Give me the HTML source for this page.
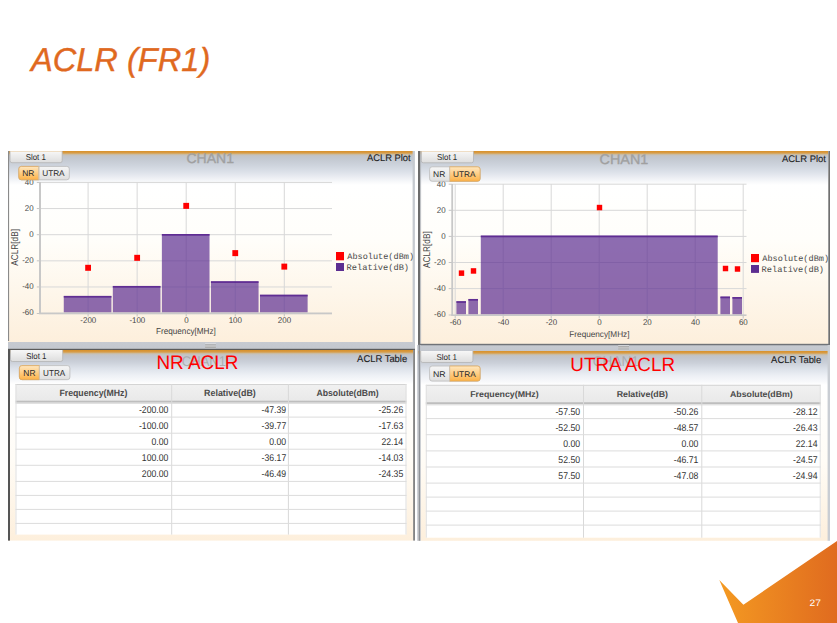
<!DOCTYPE html>
<html><head><meta charset="utf-8"><title>ACLR (FR1)</title>
<style>
html,body{margin:0;padding:0;background:#fff;width:837px;height:623px;overflow:hidden;}
svg{display:block;font-family:"Liberation Sans", sans-serif;text-rendering:geometricPrecision;}
</style></head>
<body>
<svg width="837" height="623" viewBox="0 0 837 623">

<defs>
 <linearGradient id="gPlotL" x1="0" y1="151" x2="0" y2="342" gradientUnits="userSpaceOnUse">
  <stop offset="0.0000" stop-color="#D9922A"/>
  <stop offset="0.0068" stop-color="#D8963A"/>
  <stop offset="0.0131" stop-color="#D4A865"/>
  <stop offset="0.0188" stop-color="#C9BDA8"/>
  <stop offset="0.0251" stop-color="#C3C4C7"/>
  <stop offset="0.0366" stop-color="#C2C7CF"/>
  <stop offset="0.0733" stop-color="#CDD3DC"/>
  <stop offset="0.1099" stop-color="#DCE1E9"/>
  <stop offset="0.1414" stop-color="#EDEFF4"/>
  <stop offset="0.1623" stop-color="#F8F9FB"/>
  <stop offset="0.1780" stop-color="#FFFFFF"/>
  <stop offset="0.4660" stop-color="#FFFEFA"/>
  <stop offset="1.0000" stop-color="#FDEFDC"/>
 </linearGradient>
 <linearGradient id="gPlotR" x1="0" y1="151" x2="0" y2="344" gradientUnits="userSpaceOnUse">
  <stop offset="0.0000" stop-color="#D9922A"/>
  <stop offset="0.0067" stop-color="#D8963A"/>
  <stop offset="0.0130" stop-color="#D4A865"/>
  <stop offset="0.0187" stop-color="#C9BDA8"/>
  <stop offset="0.0249" stop-color="#C3C4C7"/>
  <stop offset="0.0363" stop-color="#C2C7CF"/>
  <stop offset="0.0725" stop-color="#CDD3DC"/>
  <stop offset="0.1088" stop-color="#DCE1E9"/>
  <stop offset="0.1399" stop-color="#EDEFF4"/>
  <stop offset="0.1606" stop-color="#F8F9FB"/>
  <stop offset="0.1762" stop-color="#FFFFFF"/>
  <stop offset="0.4611" stop-color="#FFFEFA"/>
  <stop offset="1.0000" stop-color="#FDEFDC"/>
 </linearGradient>
 <linearGradient id="gTbl" x1="0" y1="0" x2="0" y2="1">
  <stop offset="0.0000" stop-color="#D9922A"/>
  <stop offset="0.0068" stop-color="#D8963A"/>
  <stop offset="0.0132" stop-color="#D4A865"/>
  <stop offset="0.0189" stop-color="#C9BDA8"/>
  <stop offset="0.0253" stop-color="#C3C4C7"/>
  <stop offset="0.0368" stop-color="#C2C6CE"/>
  <stop offset="0.0632" stop-color="#CBD0D9"/>
  <stop offset="0.0947" stop-color="#DCE1E9"/>
  <stop offset="0.1316" stop-color="#EDF0F5"/>
  <stop offset="0.1632" stop-color="#F8F9FB"/>
  <stop offset="0.1789" stop-color="#FFFFFF"/>
  <stop offset="0.5789" stop-color="#FFFCF6"/>
  <stop offset="1.0000" stop-color="#FDEFDC"/>
 </linearGradient>
 <linearGradient id="gTab" x1="0" y1="0" x2="0" y2="1">
  <stop offset="0" stop-color="#F7F7F7"/>
  <stop offset="1" stop-color="#DDDDDD"/>
 </linearGradient>
 <linearGradient id="gOn" x1="0" y1="0" x2="0" y2="1">
  <stop offset="0" stop-color="#FFE7BF"/>
  <stop offset="1" stop-color="#FDB247"/>
 </linearGradient>
 <linearGradient id="gOff" x1="0" y1="0" x2="0" y2="1">
  <stop offset="0" stop-color="#F6F6F6"/>
  <stop offset="1" stop-color="#DFDFDF"/>
 </linearGradient>
 <linearGradient id="gHdr" x1="0" y1="0" x2="0" y2="1">
  <stop offset="0" stop-color="#F1F1F1"/>
  <stop offset="1" stop-color="#E9E9E9"/>
 </linearGradient>
 <linearGradient id="gCorner" x1="719" y1="0" x2="837" y2="0" gradientUnits="userSpaceOnUse">
  <stop offset="0" stop-color="#F49A22"/>
  <stop offset="1" stop-color="#E06B1F"/>
 </linearGradient>
 <linearGradient id="gSplit" x1="0" y1="0" x2="0" y2="1">
  <stop offset="0" stop-color="#C6CAD1"/>
  <stop offset="1" stop-color="#C3C7CE"/>
 </linearGradient>
</defs>

<text transform="translate(30.93 70.90) scale(0.987 1)" font-size="33.04" fill="#E0691F" font-style="italic" stroke="#E0691F" stroke-width="0.4">ACLR (FR1)</text>
<rect x="8" y="151" width="405" height="191" fill="url(#gPlotL)"/>
<rect x="8" y="151" width="1.1" height="190" fill="#8A8A8A"/>
<rect x="412.6" y="151" width="2.3" height="198" fill="#C6CAD0"/>
<text transform="translate(186.50 162.60) scale(1.018 1)" font-size="13.77" fill="#A0A0A0" stroke="#A0A0A0" stroke-width="0.35">CHAN1</text>
<text transform="translate(367.00 160.90) scale(0.978 1)" font-size="9.57" fill="#222" stroke="#222" stroke-width="0.12">ACLR Plot</text>
<line x1="40" y1="182.44" x2="332" y2="182.44" stroke="#D8D8D8" stroke-width="1"/>
<line x1="36.8" y1="182.44" x2="40" y2="182.44" stroke="#C4C4C4" stroke-width="1"/>
<line x1="40" y1="208.57" x2="332" y2="208.57" stroke="#D8D8D8" stroke-width="1"/>
<line x1="36.8" y1="208.57" x2="40" y2="208.57" stroke="#C4C4C4" stroke-width="1"/>
<line x1="40" y1="234.7" x2="332" y2="234.7" stroke="#D8D8D8" stroke-width="1"/>
<line x1="36.8" y1="234.7" x2="40" y2="234.7" stroke="#C4C4C4" stroke-width="1"/>
<line x1="40" y1="260.83" x2="332" y2="260.83" stroke="#D8D8D8" stroke-width="1"/>
<line x1="36.8" y1="260.83" x2="40" y2="260.83" stroke="#C4C4C4" stroke-width="1"/>
<line x1="40" y1="286.96" x2="332" y2="286.96" stroke="#D8D8D8" stroke-width="1"/>
<line x1="36.8" y1="286.96" x2="40" y2="286.96" stroke="#C4C4C4" stroke-width="1"/>
<line x1="88.1" y1="182" x2="88.1" y2="313" stroke="#D8D8D8" stroke-width="1"/>
<line x1="88.1" y1="313" x2="88.1" y2="316.5" stroke="#C4C4C4" stroke-width="1"/>
<line x1="137.15" y1="182" x2="137.15" y2="313" stroke="#D8D8D8" stroke-width="1"/>
<line x1="137.15" y1="313" x2="137.15" y2="316.5" stroke="#C4C4C4" stroke-width="1"/>
<line x1="186.2" y1="182" x2="186.2" y2="313" stroke="#D8D8D8" stroke-width="1"/>
<line x1="186.2" y1="313" x2="186.2" y2="316.5" stroke="#C4C4C4" stroke-width="1"/>
<line x1="235.25" y1="182" x2="235.25" y2="313" stroke="#D8D8D8" stroke-width="1"/>
<line x1="235.25" y1="313" x2="235.25" y2="316.5" stroke="#C4C4C4" stroke-width="1"/>
<line x1="284.3" y1="182" x2="284.3" y2="313" stroke="#D8D8D8" stroke-width="1"/>
<line x1="284.3" y1="313" x2="284.3" y2="316.5" stroke="#C4C4C4" stroke-width="1"/>
<line x1="36.8" y1="313.5" x2="40" y2="313.5" stroke="#C4C4C4" stroke-width="1"/>
<rect x="63.77" y="295.92" width="47.65" height="16.58" fill="#5C2D91" fill-opacity="0.7"/>
<rect x="63.77" y="295.92" width="47.65" height="1.7" fill="#5A2590" fill-opacity="0.88"/>
<rect x="112.82" y="285.96" width="47.65" height="26.54" fill="#5C2D91" fill-opacity="0.7"/>
<rect x="112.82" y="285.96" width="47.65" height="1.7" fill="#5A2590" fill-opacity="0.88"/>
<rect x="161.87" y="234.00" width="47.65" height="78.50" fill="#5C2D91" fill-opacity="0.7"/>
<rect x="161.87" y="234.00" width="47.65" height="1.7" fill="#5A2590" fill-opacity="0.88"/>
<rect x="210.92" y="281.26" width="47.65" height="31.24" fill="#5C2D91" fill-opacity="0.7"/>
<rect x="210.92" y="281.26" width="47.65" height="1.7" fill="#5A2590" fill-opacity="0.88"/>
<rect x="259.97" y="294.74" width="47.65" height="17.76" fill="#5C2D91" fill-opacity="0.7"/>
<rect x="259.97" y="294.74" width="47.65" height="1.7" fill="#5A2590" fill-opacity="0.88"/>
<rect x="85.20" y="264.80" width="5.8" height="6" fill="#FF0000"/>
<rect x="134.25" y="254.83" width="5.8" height="6" fill="#FF0000"/>
<rect x="183.30" y="202.87" width="5.8" height="6" fill="#FF0000"/>
<rect x="232.35" y="250.13" width="5.8" height="6" fill="#FF0000"/>
<rect x="281.40" y="263.61" width="5.8" height="6" fill="#FF0000"/>
<rect x="39" y="182" width="2" height="132" fill="#C8C8C8"/>
<rect x="39" y="312.5" width="293" height="1.8" fill="#C8C8C8"/>
<text transform="translate(24.87 184.84) scale(0.950 1)" font-size="8.35" fill="#444">40</text>
<text transform="translate(24.87 210.97) scale(0.950 1)" font-size="8.35" fill="#444">20</text>
<text transform="translate(29.28 237.10) scale(0.950 1)" font-size="8.35" fill="#444">0</text>
<text transform="translate(22.22 263.23) scale(0.950 1)" font-size="8.35" fill="#444">-20</text>
<text transform="translate(22.22 289.36) scale(0.950 1)" font-size="8.35" fill="#444">-40</text>
<text transform="translate(22.22 315.49) scale(0.950 1)" font-size="8.35" fill="#444">-60</text>
<text transform="translate(80.33 322.80) scale(0.950 1)" font-size="8.35" fill="#444">-200</text>
<text transform="translate(129.38 322.80) scale(0.950 1)" font-size="8.35" fill="#444">-100</text>
<text transform="translate(184.18 322.80) scale(0.950 1)" font-size="8.35" fill="#444">0</text>
<text transform="translate(228.69 322.80) scale(0.950 1)" font-size="8.35" fill="#444">100</text>
<text transform="translate(277.84 322.80) scale(0.950 1)" font-size="8.35" fill="#444">200</text>
<text transform="translate(156.05 334.30) scale(0.938 1)" font-size="8.70" fill="#444">Frequency[MHz]</text>
<g transform="translate(18.2 265.8) rotate(-90)"><text transform="translate(0.00 0.00) scale(0.840 1)" font-size="9.86" fill="#444">ACLR[dB]</text></g>
<rect x="336" y="252" width="8" height="8.3" fill="#FF0000"/>
<rect x="336" y="263" width="8" height="8" fill="#5C2D91"/>
<text transform="translate(347.30 258.70) scale(1.010 1)" font-size="8.48" fill="#4A4A4A" font-family='"Liberation Mono", monospace'>Absolute(dBm)</text>
<text transform="translate(346.61 269.70) scale(1.024 1)" font-size="8.48" fill="#4A4A4A" font-family='"Liberation Mono", monospace'>Relative(dB)</text>
<path d="M10 151.2 v9.5 a2 2 0 0 0 2 2 h48.2 a2 2 0 0 0 2 -2 v-9.5" fill="url(#gTab)" stroke="#B4B4B4" stroke-width="0.8"/>
<text transform="translate(25.64 159.70) scale(0.925 1)" font-size="8.55" fill="#2A2A2A">Slot 1</text>
<rect x="18.8" y="166.4" width="50.5" height="13.4" rx="2.5" fill="url(#gOff)" stroke="#BABABA" stroke-width="0.8"/>
<path d="M21.3 166.4 h17.5 v13.4 h-17.5 a2.5 2.5 0 0 1 -2.5 -2.5 v-8.4 a2.5 2.5 0 0 1 2.5 -2.5 z" fill="url(#gOn)" stroke="#DDA75C" stroke-width="0.8"/>
<line x1="38.8" y1="166.4" x2="38.8" y2="179.8" stroke="#C8C8C8" stroke-width="0.8"/>
<text transform="translate(22.22 175.90) scale(1.022 1)" font-size="8.26" fill="#2A2A2A">NR</text>
<text transform="translate(42.18 175.90) scale(0.998 1)" font-size="8.26" fill="#2A2A2A">UTRA</text>
<rect x="8" y="342" width="407" height="7" fill="url(#gSplit)"/>
<rect x="205.1" y="343.2" width="10.8" height="0.8" fill="#DADCE0"/><rect x="205.1" y="344.3" width="10.8" height="0.9" fill="#ABABAB"/><rect x="205.1" y="345.2" width="10.8" height="1.7" fill="#C2C2C2"/><rect x="205.1" y="346.9" width="10.8" height="1" fill="#A6A6A6"/><rect x="205.1" y="347.9" width="10.8" height="0.6" fill="#D2D4D8"/>
<rect x="8" y="348.8" width="407" height="1.2" fill="#5A5A5A"/>
<rect x="8" y="350" width="405" height="190.6" fill="url(#gTbl)"/>
<rect x="8" y="349" width="2" height="191.6" fill="#555"/>
<rect x="413.3" y="349" width="1.5" height="191.6" fill="#666"/>
<text transform="translate(181.85 366.00) scale(0.928 1)" font-size="14.06" fill="#A6A6A6" fill-opacity="0.85">CHAN1</text>
<text transform="translate(156.39 368.80) scale(0.960 1)" font-size="19.71" fill="#FF0000">NR ACLR</text>
<text transform="translate(357.10 361.60) scale(0.957 1)" font-size="9.86" fill="#222" stroke="#222" stroke-width="0.12">ACLR Table</text>
<path d="M10.5 350.0 v9.5 a2 2 0 0 0 2 2 h48.2 a2 2 0 0 0 2 -2 v-9.5" fill="url(#gTab)" stroke="#B4B4B4" stroke-width="0.8"/>
<text transform="translate(26.24 359.30) scale(0.925 1)" font-size="8.55" fill="#2A2A2A">Slot 1</text>
<rect x="19.4" y="365.6" width="50.5" height="14.05" rx="2.5" fill="url(#gOff)" stroke="#BABABA" stroke-width="0.8"/>
<path d="M21.9 365.6 h17.5 v14.05 h-17.5 a2.5 2.5 0 0 1 -2.5 -2.5 v-9.05 a2.5 2.5 0 0 1 2.5 -2.5 z" fill="url(#gOn)" stroke="#DDA75C" stroke-width="0.8"/>
<line x1="39.4" y1="365.6" x2="39.4" y2="379.65000000000003" stroke="#C8C8C8" stroke-width="0.8"/>
<text transform="translate(23.32 375.60) scale(0.971 1)" font-size="8.70" fill="#2A2A2A">NR</text>
<text transform="translate(43.09 375.60) scale(0.935 1)" font-size="8.70" fill="#2A2A2A">UTRA</text>
<rect x="15.5" y="384" width="391.0" height="150.60000000000002" fill="#FFFFFF"/>
<rect x="15.5" y="384" width="391.0" height="17" fill="url(#gHdr)"/>
<rect x="15.5" y="384" width="391.0" height="1" fill="#D4D4D4"/>
<rect x="15.5" y="400.7" width="391.0" height="2" fill="#BEBEBE"/>
<rect x="15.5" y="402.7" width="391.0" height="1.2" fill="#DEDEDE"/>
<rect x="171.2" y="384" width="1" height="150.60000000000002" fill="#D9D9D9"/>
<rect x="287.9" y="384" width="1" height="150.60000000000002" fill="#D9D9D9"/>
<rect x="15.5" y="384" width="1" height="150.60000000000002" fill="#E0E0E0"/>
<rect x="405.5" y="384" width="1" height="150.60000000000002" fill="#E0E0E0"/>
<text transform="translate(59.43 395.90) scale(0.942 1)" font-size="9.28" fill="#4A4A4A" font-weight="bold">Frequency(MHz)</text>
<text transform="translate(204.12 395.80) scale(0.956 1)" font-size="9.28" fill="#4A4A4A" font-weight="bold">Relative(dB)</text>
<text transform="translate(316.48 395.70) scale(0.951 1)" font-size="9.13" fill="#4A4A4A" font-weight="bold">Absolute(dBm)</text>
<text transform="translate(138.94 412.98) scale(0.887 1)" font-size="9.80" fill="#333">-200.00</text>
<text transform="translate(261.55 412.98) scale(0.887 1)" font-size="9.80" fill="#333">-47.39</text>
<text transform="translate(378.60 412.98) scale(0.887 1)" font-size="9.80" fill="#333">-25.26</text>
<text transform="translate(138.94 429.06) scale(0.887 1)" font-size="9.80" fill="#333">-100.00</text>
<text transform="translate(261.59 429.06) scale(0.887 1)" font-size="9.80" fill="#333">-39.77</text>
<text transform="translate(378.60 429.06) scale(0.887 1)" font-size="9.80" fill="#333">-17.63</text>
<text transform="translate(151.50 445.14) scale(0.887 1)" font-size="9.80" fill="#333">0.00</text>
<text transform="translate(269.20 445.14) scale(0.887 1)" font-size="9.80" fill="#333">0.00</text>
<text transform="translate(381.43 445.14) scale(0.887 1)" font-size="9.80" fill="#333">22.14</text>
<text transform="translate(141.80 461.22) scale(0.887 1)" font-size="9.80" fill="#333">100.00</text>
<text transform="translate(261.59 461.22) scale(0.887 1)" font-size="9.80" fill="#333">-36.17</text>
<text transform="translate(378.60 461.22) scale(0.887 1)" font-size="9.80" fill="#333">-14.03</text>
<text transform="translate(141.80 477.30) scale(0.887 1)" font-size="9.80" fill="#333">200.00</text>
<text transform="translate(261.55 477.30) scale(0.887 1)" font-size="9.80" fill="#333">-46.49</text>
<text transform="translate(378.60 477.30) scale(0.887 1)" font-size="9.80" fill="#333">-24.35</text>
<rect x="15.5" y="416.6" width="391.0" height="1" fill="#DCDCDC"/>
<rect x="15.5" y="432.7" width="391.0" height="1" fill="#DCDCDC"/>
<rect x="15.5" y="448.7" width="391.0" height="1" fill="#DCDCDC"/>
<rect x="15.5" y="464.8" width="391.0" height="1" fill="#DCDCDC"/>
<rect x="15.5" y="480.9" width="391.0" height="1" fill="#DCDCDC"/>
<rect x="15.5" y="494.9" width="391.0" height="1" fill="#DCDCDC"/>
<rect x="15.5" y="508.9" width="391.0" height="1" fill="#DCDCDC"/>
<rect x="15.5" y="522.9" width="391.0" height="1" fill="#DCDCDC"/>
<rect x="418" y="151" width="410" height="193" fill="url(#gPlotR)"/>
<rect x="418" y="151" width="2.3" height="194" fill="#6C6C6C"/>
<rect x="420.3" y="151" width="0.8" height="193" fill="#B8BCC2"/>
<rect x="828.3" y="151" width="1.7" height="194" fill="#707070"/>
<text transform="translate(599.58 163.80) scale(1.032 1)" font-size="13.91" fill="#A0A0A0" stroke="#A0A0A0" stroke-width="0.35">CHAN1</text>
<text transform="translate(781.90 161.50) scale(0.987 1)" font-size="9.57" fill="#222" stroke="#222" stroke-width="0.12">ACLR Plot</text>
<line x1="452" y1="184.2" x2="746.5" y2="184.2" stroke="#D8D8D8" stroke-width="1"/>
<line x1="448.7" y1="184.2" x2="452" y2="184.2" stroke="#C4C4C4" stroke-width="1"/>
<line x1="452" y1="210.3" x2="746.5" y2="210.3" stroke="#D8D8D8" stroke-width="1"/>
<line x1="448.7" y1="210.3" x2="452" y2="210.3" stroke="#C4C4C4" stroke-width="1"/>
<line x1="452" y1="236.4" x2="746.5" y2="236.4" stroke="#D8D8D8" stroke-width="1"/>
<line x1="448.7" y1="236.4" x2="452" y2="236.4" stroke="#C4C4C4" stroke-width="1"/>
<line x1="452" y1="262.5" x2="746.5" y2="262.5" stroke="#D8D8D8" stroke-width="1"/>
<line x1="448.7" y1="262.5" x2="452" y2="262.5" stroke="#C4C4C4" stroke-width="1"/>
<line x1="452" y1="288.6" x2="746.5" y2="288.6" stroke="#D8D8D8" stroke-width="1"/>
<line x1="448.7" y1="288.6" x2="452" y2="288.6" stroke="#C4C4C4" stroke-width="1"/>
<line x1="455.2" y1="184" x2="455.2" y2="315" stroke="#D8D8D8" stroke-width="1"/>
<line x1="455.2" y1="315" x2="455.2" y2="318.5" stroke="#C4C4C4" stroke-width="1"/>
<line x1="503.2" y1="184" x2="503.2" y2="315" stroke="#D8D8D8" stroke-width="1"/>
<line x1="503.2" y1="315" x2="503.2" y2="318.5" stroke="#C4C4C4" stroke-width="1"/>
<line x1="551.2" y1="184" x2="551.2" y2="315" stroke="#D8D8D8" stroke-width="1"/>
<line x1="551.2" y1="315" x2="551.2" y2="318.5" stroke="#C4C4C4" stroke-width="1"/>
<line x1="599.2" y1="184" x2="599.2" y2="315" stroke="#D8D8D8" stroke-width="1"/>
<line x1="599.2" y1="315" x2="599.2" y2="318.5" stroke="#C4C4C4" stroke-width="1"/>
<line x1="647.2" y1="184" x2="647.2" y2="315" stroke="#D8D8D8" stroke-width="1"/>
<line x1="647.2" y1="315" x2="647.2" y2="318.5" stroke="#C4C4C4" stroke-width="1"/>
<line x1="695.2" y1="184" x2="695.2" y2="315" stroke="#D8D8D8" stroke-width="1"/>
<line x1="695.2" y1="315" x2="695.2" y2="318.5" stroke="#C4C4C4" stroke-width="1"/>
<line x1="743.2" y1="184" x2="743.2" y2="315" stroke="#D8D8D8" stroke-width="1"/>
<line x1="743.2" y1="315" x2="743.2" y2="318.5" stroke="#C4C4C4" stroke-width="1"/>
<line x1="448.7" y1="315" x2="452" y2="315" stroke="#C4C4C4" stroke-width="1"/>
<rect x="456.40" y="301.19" width="9.60" height="13.31" fill="#5C2D91" fill-opacity="0.7"/>
<rect x="456.40" y="301.19" width="9.60" height="1.7" fill="#5A2590" fill-opacity="0.88"/>
<rect x="468.40" y="298.98" width="9.60" height="15.52" fill="#5C2D91" fill-opacity="0.7"/>
<rect x="468.40" y="298.98" width="9.60" height="1.7" fill="#5A2590" fill-opacity="0.88"/>
<rect x="480.80" y="235.60" width="236.90" height="78.90" fill="#5C2D91" fill-opacity="0.7"/>
<rect x="480.80" y="235.60" width="236.90" height="1.7" fill="#5A2590" fill-opacity="0.88"/>
<rect x="720.40" y="296.56" width="9.60" height="17.94" fill="#5C2D91" fill-opacity="0.7"/>
<rect x="720.40" y="296.56" width="9.60" height="1.7" fill="#5A2590" fill-opacity="0.88"/>
<rect x="732.40" y="297.04" width="9.60" height="17.46" fill="#5C2D91" fill-opacity="0.7"/>
<rect x="732.40" y="297.04" width="9.60" height="1.7" fill="#5A2590" fill-opacity="0.88"/>
<rect x="458.80" y="270.40" width="5.4" height="5.5" fill="#FF0000"/>
<rect x="470.80" y="268.19" width="5.4" height="5.5" fill="#FF0000"/>
<rect x="596.80" y="204.81" width="5.4" height="5.5" fill="#FF0000"/>
<rect x="722.80" y="265.76" width="5.4" height="5.5" fill="#FF0000"/>
<rect x="734.80" y="266.25" width="5.4" height="5.5" fill="#FF0000"/>
<rect x="451.3" y="184" width="1.8" height="131.5" fill="#C8C8C8"/>
<rect x="451.3" y="314.4" width="295.2" height="1.6" fill="#C8C8C8"/>
<text transform="translate(436.77 186.60) scale(0.950 1)" font-size="8.35" fill="#444">40</text>
<text transform="translate(436.77 212.70) scale(0.950 1)" font-size="8.35" fill="#444">20</text>
<text transform="translate(441.18 238.80) scale(0.950 1)" font-size="8.35" fill="#444">0</text>
<text transform="translate(434.12 264.90) scale(0.950 1)" font-size="8.35" fill="#444">-20</text>
<text transform="translate(434.12 291.00) scale(0.950 1)" font-size="8.35" fill="#444">-40</text>
<text transform="translate(434.12 317.10) scale(0.950 1)" font-size="8.35" fill="#444">-60</text>
<text transform="translate(449.63 324.60) scale(0.950 1)" font-size="8.35" fill="#444">-60</text>
<text transform="translate(497.63 324.60) scale(0.950 1)" font-size="8.35" fill="#444">-40</text>
<text transform="translate(545.63 324.60) scale(0.950 1)" font-size="8.35" fill="#444">-20</text>
<text transform="translate(597.18 324.60) scale(0.950 1)" font-size="8.35" fill="#444">0</text>
<text transform="translate(642.94 324.60) scale(0.950 1)" font-size="8.35" fill="#444">20</text>
<text transform="translate(691.06 324.60) scale(0.950 1)" font-size="8.35" fill="#444">40</text>
<text transform="translate(738.94 324.60) scale(0.950 1)" font-size="8.35" fill="#444">60</text>
<text transform="translate(569.35 336.50) scale(0.974 1)" font-size="8.41" fill="#444">Frequency[MHz]</text>
<g transform="translate(429.8 268) rotate(-90)"><text transform="translate(0.00 0.00) scale(0.840 1)" font-size="9.86" fill="#444">ACLR[dB]</text></g>
<rect x="751" y="254" width="8" height="8.2" fill="#FF0000"/>
<rect x="751" y="265" width="8" height="7.9" fill="#5C2D91"/>
<text transform="translate(762.30 260.60) scale(1.010 1)" font-size="8.48" fill="#4A4A4A" font-family='"Liberation Mono", monospace'>Absolute(dBm)</text>
<text transform="translate(761.61 271.60) scale(1.024 1)" font-size="8.48" fill="#4A4A4A" font-family='"Liberation Mono", monospace'>Relative(dB)</text>
<path d="M421.3 151.29999999999998 v9.5 a2 2 0 0 0 2 2 h48.2 a2 2 0 0 0 2 -2 v-9.5" fill="url(#gTab)" stroke="#B4B4B4" stroke-width="0.8"/>
<text transform="translate(437.04 160.00) scale(0.925 1)" font-size="8.55" fill="#2A2A2A">Slot 1</text>
<rect x="429.6" y="166.8" width="50.5" height="14.45" rx="2.5" fill="url(#gOff)" stroke="#BABABA" stroke-width="0.8"/>
<path d="M449.6 166.8 h28.0 a2.5 2.5 0 0 1 2.5 2.5 v9.45 a2.5 2.5 0 0 1 -2.5 2.5 h-28.0 z" fill="url(#gOn)" stroke="#DDA75C" stroke-width="0.8"/>
<line x1="449.6" y1="166.8" x2="449.6" y2="181.25" stroke="#C8C8C8" stroke-width="0.8"/>
<text transform="translate(433.12 176.70) scale(1.022 1)" font-size="8.26" fill="#2A2A2A">NR</text>
<text transform="translate(453.08 176.70) scale(0.998 1)" font-size="8.26" fill="#2A2A2A">UTRA</text>
<rect x="418" y="345" width="412" height="6" fill="url(#gSplit)"/>
<rect x="418" y="343.8" width="412" height="1.2" fill="#707378"/>
<rect x="418" y="345" width="412" height="0.7" fill="#A4A8AE"/>
<rect x="618.2" y="345.0" width="10.8" height="0.8" fill="#DADCE0"/><rect x="618.2" y="346.1" width="10.8" height="0.9" fill="#ABABAB"/><rect x="618.2" y="347.0" width="10.8" height="1.7" fill="#C2C2C2"/><rect x="618.2" y="348.7" width="10.8" height="1" fill="#A6A6A6"/><rect x="618.2" y="349.7" width="10.8" height="0.6" fill="#D2D4D8"/>
<rect x="418" y="351" width="410" height="189.8" fill="url(#gTbl)"/>
<rect x="417.2" y="345" width="1.4" height="195.8" fill="#C4C8CF"/>
<rect x="418.6" y="345" width="1.4" height="195.8" fill="#8E9298"/>
<rect x="420" y="345" width="0.8" height="195.8" fill="#C0C4CA"/>
<rect x="827.6" y="345" width="2.4" height="195.8" fill="#C9CDD3"/>
<text transform="translate(592.72 366.30) scale(0.969 1)" font-size="14.06" fill="#A6A6A6" fill-opacity="0.85">CHAN1</text>
<text transform="translate(570.29 370.60) scale(0.971 1)" font-size="19.42" fill="#FF0000">UTRA ACLR</text>
<text transform="translate(771.10 362.80) scale(0.971 1)" font-size="9.71" fill="#222" stroke="#222" stroke-width="0.12">ACLR Table</text>
<path d="M420.7 351.0 v9.5 a2 2 0 0 0 2 2 h48.2 a2 2 0 0 0 2 -2 v-9.5" fill="url(#gTab)" stroke="#B4B4B4" stroke-width="0.8"/>
<text transform="translate(436.44 359.90) scale(0.956 1)" font-size="8.41" fill="#2A2A2A">Slot 1</text>
<rect x="429.6" y="366.0" width="50.5" height="15.1" rx="2.5" fill="url(#gOff)" stroke="#BABABA" stroke-width="0.8"/>
<path d="M449.6 366.0 h28.0 a2.5 2.5 0 0 1 2.5 2.5 v10.1 a2.5 2.5 0 0 1 -2.5 2.5 h-28.0 z" fill="url(#gOn)" stroke="#DDA75C" stroke-width="0.8"/>
<line x1="449.6" y1="366.0" x2="449.6" y2="381.1" stroke="#C8C8C8" stroke-width="0.8"/>
<text transform="translate(432.90 376.80) scale(1.059 1)" font-size="8.26" fill="#2A2A2A">NR</text>
<text transform="translate(453.08 376.80) scale(1.007 1)" font-size="8.26" fill="#2A2A2A">UTRA</text>
<rect x="425.8" y="384.8" width="394.90000000000003" height="152.90000000000003" fill="#FFFFFF"/>
<rect x="425.8" y="384.8" width="394.90000000000003" height="17.69999999999999" fill="url(#gHdr)"/>
<rect x="425.8" y="384.8" width="394.90000000000003" height="1" fill="#D4D4D4"/>
<rect x="425.8" y="402.2" width="394.90000000000003" height="2" fill="#BEBEBE"/>
<rect x="425.8" y="404.2" width="394.90000000000003" height="1.2" fill="#DEDEDE"/>
<rect x="583.0" y="384.8" width="1" height="152.90000000000003" fill="#D9D9D9"/>
<rect x="701.3" y="384.8" width="1" height="152.90000000000003" fill="#D9D9D9"/>
<rect x="425.8" y="384.8" width="1" height="152.90000000000003" fill="#E0E0E0"/>
<rect x="819.7" y="384.8" width="1" height="152.90000000000003" fill="#E0E0E0"/>
<text transform="translate(470.23 397.20) scale(1.030 1)" font-size="8.55" fill="#4A4A4A" font-weight="bold">Frequency(MHz)</text>
<text transform="translate(616.63 397.10) scale(1.030 1)" font-size="8.55" fill="#4A4A4A" font-weight="bold">Relative(dB)</text>
<text transform="translate(729.98 397.10) scale(1.025 1)" font-size="8.55" fill="#4A4A4A" font-weight="bold">Absolute(dBm)</text>
<text transform="translate(555.46 414.52) scale(0.887 1)" font-size="9.80" fill="#333">-57.50</text>
<text transform="translate(673.70 414.52) scale(0.887 1)" font-size="9.80" fill="#333">-50.26</text>
<text transform="translate(792.99 414.52) scale(0.887 1)" font-size="9.80" fill="#333">-28.12</text>
<text transform="translate(555.46 430.64) scale(0.887 1)" font-size="9.80" fill="#333">-52.50</text>
<text transform="translate(673.79 430.64) scale(0.887 1)" font-size="9.80" fill="#333">-48.57</text>
<text transform="translate(792.90 430.64) scale(0.887 1)" font-size="9.80" fill="#333">-26.43</text>
<text transform="translate(563.20 446.76) scale(0.887 1)" font-size="9.80" fill="#333">0.00</text>
<text transform="translate(681.40 446.76) scale(0.887 1)" font-size="9.80" fill="#333">0.00</text>
<text transform="translate(795.73 446.76) scale(0.887 1)" font-size="9.80" fill="#333">22.14</text>
<text transform="translate(558.37 462.88) scale(0.887 1)" font-size="9.80" fill="#333">52.50</text>
<text transform="translate(673.75 462.88) scale(0.887 1)" font-size="9.80" fill="#333">-46.71</text>
<text transform="translate(792.99 462.88) scale(0.887 1)" font-size="9.80" fill="#333">-24.57</text>
<text transform="translate(558.37 479.00) scale(0.887 1)" font-size="9.80" fill="#333">57.50</text>
<text transform="translate(673.70 479.00) scale(0.887 1)" font-size="9.80" fill="#333">-47.08</text>
<text transform="translate(792.82 479.00) scale(0.887 1)" font-size="9.80" fill="#333">-24.94</text>
<rect x="425.8" y="418.1" width="394.90000000000003" height="1" fill="#DCDCDC"/>
<rect x="425.8" y="434.2" width="394.90000000000003" height="1" fill="#DCDCDC"/>
<rect x="425.8" y="450.4" width="394.90000000000003" height="1" fill="#DCDCDC"/>
<rect x="425.8" y="466.5" width="394.90000000000003" height="1" fill="#DCDCDC"/>
<rect x="425.8" y="482.6" width="394.90000000000003" height="1" fill="#DCDCDC"/>
<rect x="425.8" y="496.6" width="394.90000000000003" height="1" fill="#DCDCDC"/>
<rect x="425.8" y="510.6" width="394.90000000000003" height="1" fill="#DCDCDC"/>
<rect x="425.8" y="524.6" width="394.90000000000003" height="1" fill="#DCDCDC"/>
<polygon points="719.3,580 743.4,604.8 837,541 837,623 738,623" fill="url(#gCorner)"/>
<text transform="translate(809.49 605.80) scale(1.082 1)" font-size="9.43" fill="#FFFFFF">27</text>
</svg>
</body></html>
